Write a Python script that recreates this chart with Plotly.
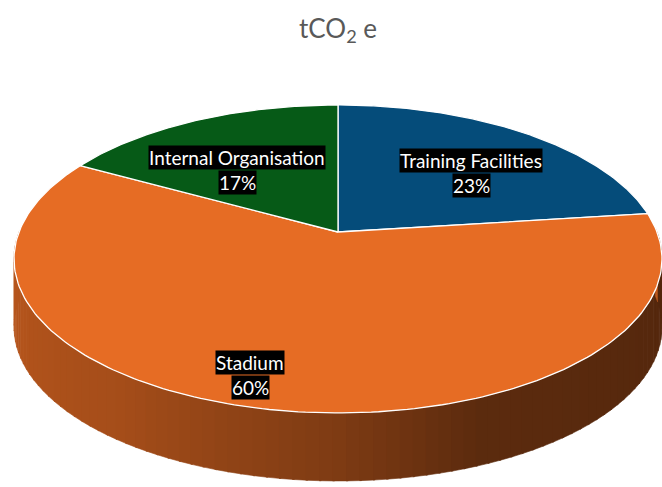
import numpy as np
import plotly.graph_objects as go

# ---- data ----
categories = ["Training Facilities", "Stadium", "Internal Organisation"]
values = [23, 60, 17]
colors = ["#054C7A", "#E66C24", "#065A17"]
title_text = "tCO<sub>2</sub> e"

# ---- layout / geometry (pixel space) ----
W, H = 662, 487
CX, CY, R, B, K, DEPTH = 338, 232, 319, 149.3, 0.175, 68
LABEL_POS = {"Training Facilities": (471, 173),
             "Stadium": (250, 375),
             "Internal Organisation": (237, 170)}
FONT = "Lato, Carlito, Calibri, sans-serif"


def proj(t_deg, r=1.0, dy=0.0):
    t = np.radians(t_deg)
    s = 1.0 / (1.0 + K * r * np.sin(t))
    return CX + R * r * np.cos(t) * s, CY - B * r * np.sin(t) * s + dy


def hex_to_rgb(h):
    h = h.lstrip("#")
    return tuple(int(h[i:i + 2], 16) for i in (0, 2, 4))


def shade(hexcol, t_deg):
    u = ((t_deg % 360) - 180) / 180.0
    f = np.interp(u, [0, 0.3, 0.5, 0.62, 1.0], [0.82, 0.72, 0.55, 0.40, 0.36])
    r, g, b = hex_to_rgb(hexcol)
    return "rgb(%d,%d,%d)" % (r * f, g * f, b * f)


total = float(sum(values))
fig = go.Figure()

# slice angle ranges (clockwise from 12 o'clock)
ranges = []
start = 90.0
for v in values:
    end = start - 360.0 * v / total
    ranges.append((end, start))
    start = end

# side walls (only the front half is visible)
STEP = 2.0
for (t_lo, t_hi), col in zip(ranges, colors):
    ts = np.arange(t_lo, t_hi, STEP)
    for ta in ts:
        tb = min(ta + STEP, t_hi)
        tm = 0.5 * (ta + tb)
        if np.sin(np.radians(tm)) >= 0.02:
            continue
        tt = np.linspace(ta, tb + 0.3, 4)
        xt, yt = proj(tt)
        xb, yb = proj(tt[::-1], dy=DEPTH)
        c = shade(col, tm)
        fig.add_trace(go.Scatter(
            x=np.concatenate([xt, xb]), y=np.concatenate([yt, yb]),
            mode="lines", fill="toself", fillcolor=c,
            line=dict(color=c, width=0.6), hoverinfo="skip", showlegend=False))

# top faces
for (t_lo, t_hi), col, name in zip(ranges, colors, categories):
    tt = np.linspace(t_hi, t_lo, 200)
    xa, ya = proj(tt)
    x = np.concatenate([[CX], xa, [CX]])
    y = np.concatenate([[CY], ya, [CY]])
    fig.add_trace(go.Scatter(
        x=x, y=y, mode="lines", fill="toself", fillcolor=col,
        line=dict(color="white", width=1.3), name=name,
        hoverinfo="skip", showlegend=False))

# labels
for name, v in zip(categories, values):
    lx, ly = LABEL_POS[name]
    pct = "%d%%" % round(100 * v / total)
    for txt, yy in ((name, ly - 12.5), (pct, ly + 12.5)):
        fig.add_annotation(x=lx, y=yy, xref="x", yref="y", text=txt,
                           showarrow=False, bgcolor="black", borderpad=0,
                           font=dict(family=FONT, size=19, color="white"))

fig.add_annotation(x=338, y=29, xref="x", yref="y", text=title_text,
                   showarrow=False,
                   font=dict(family=FONT, size=26, color="#595959"))

fig.update_layout(
    width=W, height=H, margin=dict(l=0, r=0, t=0, b=0),
    paper_bgcolor="white", plot_bgcolor="white", showlegend=False,
    xaxis=dict(range=[0, W], visible=False, fixedrange=True),
    yaxis=dict(range=[H, 0], visible=False, fixedrange=True),
)

fig.write_html("out.html")
